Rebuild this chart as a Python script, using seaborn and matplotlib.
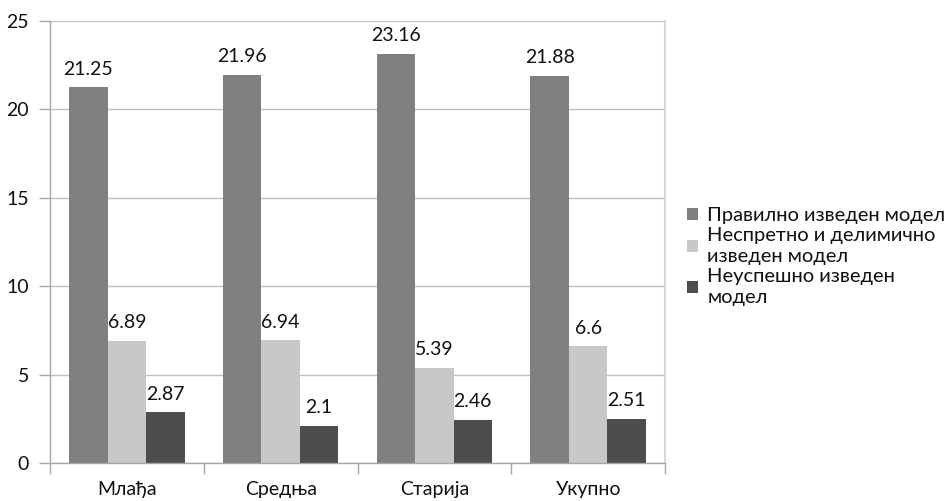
import matplotlib
matplotlib.use("Agg")
import matplotlib.pyplot as plt
import matplotlib.patches as mpatches
import seaborn as sns
import pandas as pd

categories = ["Млађа", "Средња", "Старија", "Укупно"]
series_names = [
    "Правилно изведен модел",
    "Неспретно и делимично изведен модел",
    "Неуспешно изведен модел",
]
legend_labels = [
    "Правилно изведен модел",
    "Неспретно и делимично\nизведен модел",
    "Неуспешно изведен\nмодел",
]
correct = [21.25, 21.96, 23.16, 21.88]
partial = [6.89, 6.94, 5.39, 6.6]
failed = [2.87, 2.1, 2.46, 2.51]
yticks = [0, 5, 10, 15, 20, 25]
colors = ["#808080", "#C8C8C8", "#4D4D4D"]

rows = []
for name, vals in zip(series_names, [correct, partial, failed]):
    for cat, v in zip(categories, vals):
        rows.append({"Група": cat, "Серија": name, "Вредност": v})
df = pd.DataFrame(rows)

sns.set_theme(style="white")
plt.rcParams["font.family"] = ["Lato", "DejaVu Sans"]
FS = 14
TXT = "#111111"

fig = plt.figure(figsize=(9.44, 5.01), dpi=100)
ax = fig.add_axes([50 / 944, 1 - 463 / 501, 615 / 944, 442 / 501])

sns.barplot(data=df, x="Група", y="Вредност", hue="Серија",
            hue_order=series_names, order=categories, palette=colors,
            width=0.75, saturation=1, ax=ax, legend=False, errorbar=None,
            edgecolor="none", linewidth=0)

for cont in ax.containers:
    labels = [f"{v:g}" for v in cont.datavalues]
    ax.bar_label(cont, labels=labels, padding=7, fontsize=FS, color=TXT)

ax.set_ylim(0, 25)
ax.set_xlim(-0.5, 3.5)
ax.set_yticks(yticks)
ax.set_yticklabels([str(t) for t in yticks], fontsize=FS, color=TXT)
ax.yaxis.grid(True, color="#C0C0C0", linewidth=1)
ax.set_axisbelow(True)
ax.tick_params(axis="y", which="major", length=8, width=1, color="#A6A6A6",
               direction="out", pad=7, left=True)

ax.set_xticks(range(len(categories)))
ax.set_xticklabels(categories, fontsize=FS, color=TXT)
ax.set_xticks([i - 0.5 for i in range(len(categories) + 1)], minor=True)
ax.tick_params(axis="x", which="major", length=0, pad=13)
ax.tick_params(axis="x", which="minor", length=8, width=1, color="#A6A6A6",
               direction="out", bottom=True)

ax.set_xlabel("")
ax.set_ylabel("")
for side in ["left", "bottom"]:
    ax.spines[side].set_color("#A6A6A6")
    ax.spines[side].set_linewidth(1)
ax.spines["top"].set_visible(False)
ax.spines["right"].set_color("#D9D9D9")
ax.spines["right"].set_linewidth(1.5)

handles = [mpatches.Patch(facecolor=c, edgecolor="none") for c in colors]
leg = fig.legend(handles, legend_labels, loc="upper left",
                 bbox_to_anchor=(679 / 944, 1 - 199 / 501), frameon=False,
                 fontsize=14.5, handlelength=0.55, handleheight=0.55,
                 handletextpad=0.45, labelspacing=0.15, borderaxespad=0)
for t in leg.get_texts():
    t.set_color(TXT)
    t.set_linespacing(1.3)

fig.savefig("out.png", dpi=100)
